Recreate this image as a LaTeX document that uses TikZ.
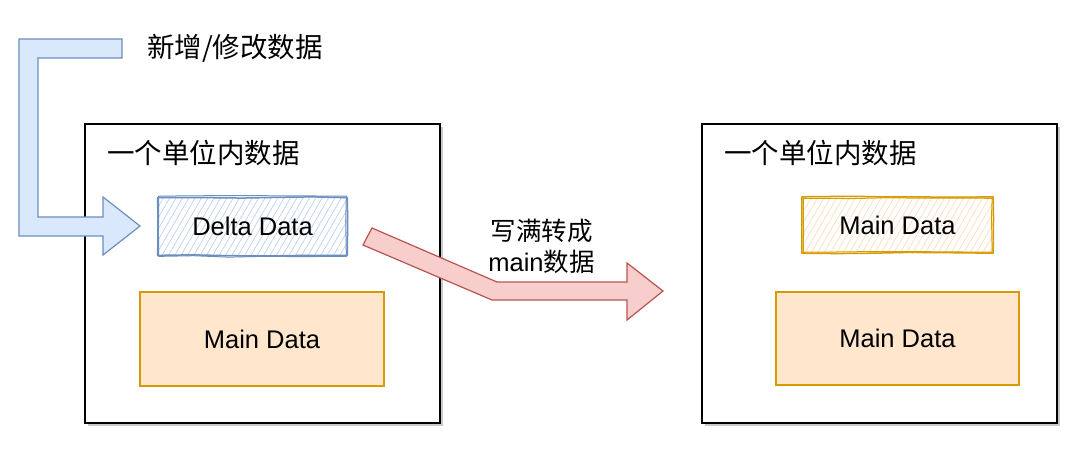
\documentclass[tikz,border=0pt]{standalone}
\usepackage{fontspec}
\setmainfont{Liberation Sans}
\newfontfamily\cjk{Noto Sans CJK SC}
\usetikzlibrary{patterns.meta,decorations.pathmorphing,shadows}
\definecolor{blueS}{HTML}{6C8EBF}
\definecolor{blueF}{HTML}{DAE8FC}
\definecolor{blueH}{HTML}{BCD1F0}
\definecolor{orS}{HTML}{D79B00}
\definecolor{orF}{HTML}{FFE6CC}
\definecolor{orH}{HTML}{FFDDBB}
\definecolor{redS}{HTML}{B85450}
\definecolor{redF}{HTML}{F8CECC}
\tikzset{
  unitbox/.style={draw=black, line width=1.6pt, fill=white, minimum width=355pt, minimum height=299pt,
    drop shadow={shadow xshift=3pt, shadow yshift=-3pt, fill=black!35, opacity=0.6}},
  mainbox/.style={draw=orS, line width=1.3pt, fill=orF, font=\fontsize{25.5}{30}\selectfont},
  sketchfill/.style={font=\fontsize{25.5}{30}\selectfont},
  sketchline/.style={line width=1.5pt, line join=round, decorate, decoration={random steps, segment length=35pt, amplitude=0.8pt}},
  cjktitle/.style={font=\cjk\fontsize{27.5}{32}\selectfont, anchor=west, inner sep=0pt},
  blockarrow/.style={line width=1.2pt, line join=miter},
}
\begin{document}
\begin{tikzpicture}[x=1pt,y=-1pt]
\useasboundingbox (0,0) rectangle (1080,448);
% outer boxes
\node[unitbox] (L) at (262.5,273.5) {};
\node[unitbox] (R) at (879.5,273.5) {};
\node[cjktitle] (Lt) at (107,153) {一个单位内数据};
\node[cjktitle] (Rt) at (724,153) {一个单位内数据};
% inner main boxes
\node[mainbox, minimum width=244pt, minimum height=94pt] (LM) at (262,339) {Main Data};
\node[mainbox, minimum width=243pt, minimum height=93pt] (RM) at (897.5,338.5) {Main Data};
% sketchy delta box
\node[sketchfill, minimum width=189pt, minimum height=57pt,
  pattern={Lines[angle=60,distance=5.5pt,line width=0.7pt]}, pattern color=blueH] (D) at (252.5,226.5) {Delta Data};
\pgfmathsetseed{3}
\draw[sketchline, draw=blueS] (D.north west) rectangle (D.south east);
\draw[sketchline, draw=blueS, line width=1pt] ([shift={(1pt,1.5pt)}]D.north west) rectangle ([shift={(-1pt,-1pt)}]D.south east);
% sketchy main box right
\node[sketchfill, minimum width=191pt, minimum height=56pt,
  pattern={Lines[angle=60,distance=5.5pt,line width=0.7pt]}, pattern color=orH] (RS) at (897.5,225) {Main Data};
\pgfmathsetseed{7}
\draw[sketchline, draw=orS] (RS.north west) rectangle (RS.south east);
\draw[sketchline, draw=orS, line width=1pt] ([shift={(1.5pt,-1.5pt)}]RS.north west) rectangle ([shift={(-1pt,1pt)}]RS.south east);
% blue L arrow
\draw[blockarrow, draw=blueS, fill=blueF] (19,39) -- (122,39) -- (122,58) -- (38,58) -- (38,217) -- (103,217) -- (103,197) -- (140,226) -- (103,255) -- (103,236) -- (19,236) -- cycle;
\node[cjktitle] (add) at (147,48) {新增/修改数据};
% red arrow
\draw[blockarrow, draw=redS, fill=redF] (372,228) -- (497,282) -- (627,282) -- (627,263) -- (663,291) -- (627,320) -- (627,300) -- (492,300) -- (363,245) -- cycle;
\node[font=\fontsize{25.5}{30}\selectfont, align=center, inner sep=0pt] (lbl) at (541.5,246) {{\cjk 写满转成}\\[1pt]main{\cjk 数据}};
\end{tikzpicture}
\end{document}
